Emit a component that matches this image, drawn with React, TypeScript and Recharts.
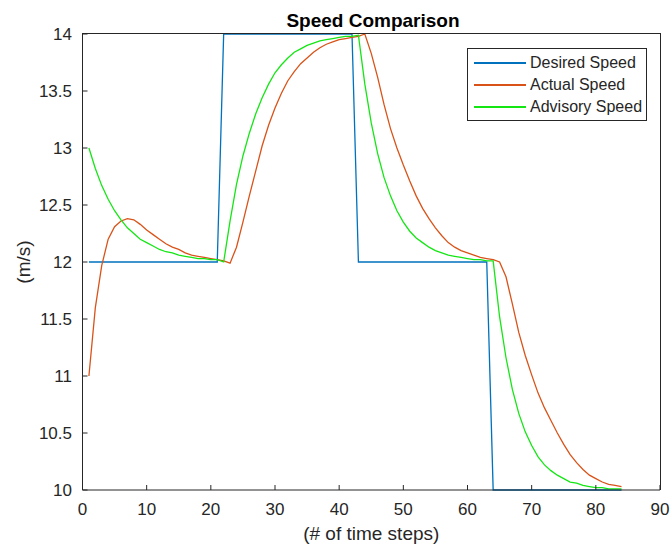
import { LineChart, Line, XAxis, YAxis, Legend, Label } from "recharts";

const timeSteps = [
  1, 2, 3, 4, 5, 6, 7, 8, 9, 10, 11, 12, 13, 14, 15, 16, 17, 18, 19, 20, 21,
  22, 23, 24, 25, 26, 27, 28, 29, 30, 31, 32, 33, 34, 35, 36, 37, 38, 39, 40, 41, 42,
  43, 44, 45, 46, 47, 48, 49, 50, 51, 52, 53, 54, 55, 56, 57, 58, 59, 60, 61, 62, 63,
  64, 65, 66, 67, 68, 69, 70, 71, 72, 73, 74, 75, 76, 77, 78, 79, 80, 81, 82, 83, 84,
];

const desiredSpeed = [
  12, 12, 12, 12, 12, 12, 12, 12, 12, 12, 12, 12, 12, 12, 12, 12, 12, 12, 12, 12, 12,
  14, 14, 14, 14, 14, 14, 14, 14, 14, 14, 14, 14, 14, 14, 14, 14, 14, 14, 14, 14, 14,
  12, 12, 12, 12, 12, 12, 12, 12, 12, 12, 12, 12, 12, 12, 12, 12, 12, 12, 12, 12, 12,
  10, 10, 10, 10, 10, 10, 10, 10, 10, 10, 10, 10, 10, 10, 10, 10, 10, 10, 10, 10, 10,
];

const actualSpeed = [
  11.0, 11.6, 11.97, 12.2, 12.31, 12.36, 12.38, 12.37, 12.33, 12.28, 12.24, 12.2, 12.16, 12.13,
  12.11, 12.08, 12.06, 12.05, 12.04, 12.03, 12.02,
  12.01, 11.99, 12.13, 12.35, 12.58, 12.8, 13.02, 13.2, 13.35, 13.48, 13.59, 13.67, 13.74, 13.79,
  13.84, 13.88, 13.91, 13.93, 13.95, 13.96, 13.97,
  13.98, 14.0, 13.83, 13.62, 13.38, 13.17, 13.0, 12.85, 12.71, 12.58, 12.47, 12.38, 12.3, 12.23,
  12.17, 12.13, 12.1, 12.08, 12.06, 12.04, 12.03,
  12.02, 12.0, 11.87, 11.63, 11.38, 11.18, 11.01, 10.85, 10.72, 10.61, 10.5, 10.4, 10.31, 10.24,
  10.18, 10.13, 10.1, 10.07, 10.05, 10.04, 10.03,
];

const advisorySpeed = [
  13.0, 12.82, 12.67, 12.55, 12.45, 12.37, 12.3, 12.25, 12.2, 12.17, 12.14, 12.11, 12.09, 12.08,
  12.06, 12.05, 12.04, 12.03, 12.03, 12.02, 12.02,
  12.0, 12.36, 12.68, 12.93, 13.13, 13.3, 13.44, 13.56, 13.66, 13.73, 13.79, 13.84, 13.87, 13.9,
  13.92, 13.94, 13.95, 13.96, 13.97, 13.98, 13.98,
  13.99, 13.56, 13.22, 12.95, 12.74, 12.58, 12.45, 12.35, 12.27, 12.21, 12.17, 12.13, 12.1, 12.08,
  12.06, 12.05, 12.04, 12.03, 12.02, 12.02, 12.01,
  12.01, 11.52, 11.16, 10.88, 10.67, 10.51, 10.39, 10.29, 10.22, 10.17, 10.13, 10.1, 10.07, 10.06,
  10.04, 10.03, 10.02, 10.02, 10.01, 10.01, 10.01,
];

const xTicks = [0, 10, 20, 30, 40, 50, 60, 70, 80, 90];
const yTicks = [10, 10.5, 11, 11.5, 12, 12.5, 13, 13.5, 14];

const SERIES = [
  { key: "desired", name: "Desired Speed", color: "#0072BD" },
  { key: "actual", name: "Actual Speed", color: "#D95319" },
  { key: "advisory", name: "Advisory Speed", color: "#14e614" },
];

const data = timeSteps.map((t, i) => ({
  t,
  desired: desiredSpeed[i],
  actual: actualSpeed[i],
  advisory: advisorySpeed[i],
}));

const FONT = '"Liberation Sans", Arial, Helvetica, sans-serif';
const AXIS_COLOR = "#262626";

function SpeedLegend() {
  return (
    <div
      style={{
        width: 178,
        height: 68,
        border: `1px solid ${AXIS_COLOR}`,
        background: "#fff",
        paddingTop: 3,
        boxSizing: "content-box",
        fontFamily: FONT,
        fontSize: 16,
        color: AXIS_COLOR,
      }}
    >
      {SERIES.map((s) => (
        <div key={s.key} style={{ display: "flex", alignItems: "center", height: 22 }}>
          <div style={{ width: 52, height: 1.3, marginLeft: 6, background: s.color }} />
          <span style={{ marginLeft: 4, whiteSpace: "nowrap" }}>{s.name}</span>
        </div>
      ))}
    </div>
  );
}

export default function App() {
  const tickStyle = { fontSize: 17, fill: AXIS_COLOR, fontFamily: FONT };
  return (
    <div style={{ position: "absolute", left: 0, top: 0, width: 672, height: 546, background: "#fff" }}>
      <div
        style={{
          position: "absolute",
          left: 273,
          top: 10,
          width: 200,
          textAlign: "center",
          fontFamily: FONT,
          fontSize: 19,
          fontWeight: "bold",
          color: "#000",
          zIndex: 2,
        }}
      >
        Speed Comparison
      </div>
      <LineChart
        width={672}
        height={546}
        data={data}
        margin={{ top: 34, right: 12, bottom: 0, left: 0 }}
        style={{ fontFamily: FONT }}
      >
        <XAxis
          dataKey="t"
          type="number"
          domain={[0, 90]}
          ticks={xTicks}
          interval={0}
          height={56}
          tickSize={-5}
          tickMargin={18}
          tick={tickStyle}
          stroke={AXIS_COLOR}
        >
          <Label value="(# of time steps)" position="insideBottom" offset={6} fill={AXIS_COLOR} fontSize={19} />
        </XAxis>
        <YAxis
          type="number"
          domain={[10, 14]}
          ticks={yTicks}
          interval={0}
          width={82.5}
          tickSize={-5}
          tickMargin={15.5}
          tick={tickStyle}
          stroke={AXIS_COLOR}
        >
          <Label
            value="(m/s)"
            angle={-90}
            position="insideLeft"
            offset={23}
            fill={AXIS_COLOR}
            fontSize={19}
            style={{ textAnchor: "middle" }}
          />
        </YAxis>
        <Legend
          layout="vertical"
          align="center"
          verticalAlign="middle"
          content={() => <SpeedLegend />}
          wrapperStyle={{ position: "absolute", left: 467, top: 48, width: "auto", height: "auto" }}
        />
        {SERIES.map((s) => (
          <Line
            key={s.key}
            type="linear"
            dataKey={s.key}
            name={s.name}
            stroke={s.color}
            strokeWidth={1.3}
            dot={false}
            activeDot={false}
            isAnimationActive={false}
          />
        ))}
      </LineChart>
      {/* axes box (MATLAB "box on"), laid over the svg */}
      <div
        style={{
          position: "absolute",
          left: 82,
          top: 33,
          width: 579,
          height: 457,
          borderTop: `1px solid ${AXIS_COLOR}`,
          borderRight: `1px solid ${AXIS_COLOR}`,
          boxSizing: "border-box",
          pointerEvents: "none",
          zIndex: 3,
        }}
      />
    </div>
  );
}
